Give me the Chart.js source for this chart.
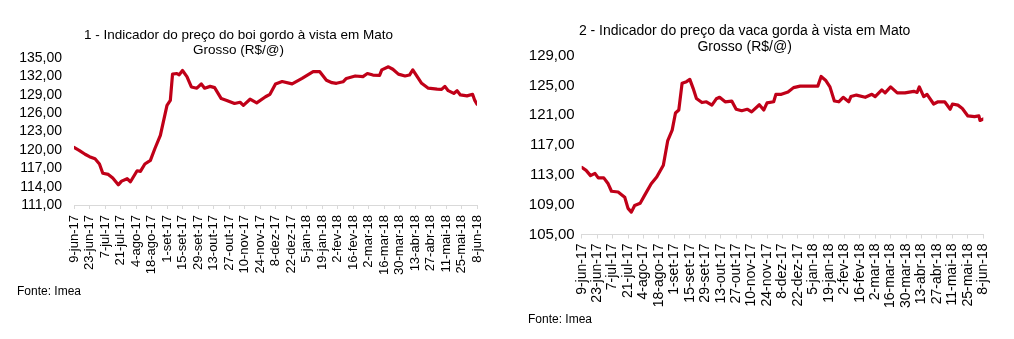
<!DOCTYPE html>
<html lang="pt-BR">
<head>
<meta charset="utf-8">
<title>Indicadores boi e vaca gorda - MT</title>
<script src="https://cdn.jsdelivr.net/npm/chart.js@4/dist/chart.umd.min.js"></script>
<style>
    body { margin: 0; background: #fff; width: 1014px; height: 339px; position: relative; overflow: hidden; }
    .grafico { position: absolute; top: 0; }
    .fonte { position: absolute; font: 12px "Liberation Sans", Arial, sans-serif; color: #000; }
</style>
</head>
<body>
<div class="grafico" style="left:0"><canvas id="boiChart" width="506" height="339"></canvas></div>
<div class="grafico" style="left:506px"><canvas id="vacaChart" width="508" height="339"></canvas></div>
<div class="fonte" style="left:17px; top:284px">Fonte: Imea</div>
<div class="fonte" style="left:528px; top:312px">Fonte: Imea</div>

<script>
// rotulos do eixo x (a cada 14 dias)
const rotulos = ['9-jun-17', '23-jun-17', '7-jul-17', '21-jul-17', '4-ago-17', '18-ago-17', '1-set-17',
    '15-set-17', '29-set-17', '13-out-17', '27-out-17', '10-nov-17', '24-nov-17', '8-dez-17', '22-dez-17',
    '5-jan-18', '19-jan-18', '2-fev-18', '16-fev-18', '2-mar-18', '16-mar-18', '30-mar-18', '13-abr-18',
    '27-abr-18', '11-mai-18', '25-mai-18', '8-jun-18'];

// boi gordo: dias desde 9-jun-17 e preco (R$/@)
const diasBoi = [0, 5, 10, 14, 19, 23, 26, 31, 35, 40, 43, 48, 51, 57, 60, 64, 69, 73, 78, 84, 87, 89, 93, 95,
    98, 102, 106, 111, 115, 118, 123, 127, 133, 138, 145, 150, 153, 159, 165, 173, 177, 182, 188, 197, 206,
    216, 222, 228, 233, 237, 243, 246, 254, 261, 265, 270, 276, 278, 284, 288, 293, 299, 303, 306, 310, 314,
    320, 328, 332, 335, 338, 343, 346, 349, 355, 360, 362, 364];
const boi = [120.4, 119.9, 119.3, 118.9, 118.55, 117.7, 116.2, 116.0, 115.4, 114.3, 114.9, 115.3, 114.8, 116.6,
    116.5, 117.7, 118.3, 120.2, 122.4, 127.3, 128.1, 132.4, 132.5, 132.3, 133.0, 132.0, 130.3, 130.1, 130.8,
    130.1, 130.4, 130.2, 128.4, 128.1, 127.6, 127.8, 127.3, 128.3, 127.7, 128.7, 129.1, 130.8, 131.2, 130.8,
    131.7, 132.8, 132.8, 131.4, 131.0, 130.9, 131.15, 131.7, 132.1, 132.0, 132.5, 132.25, 132.2, 133.1, 133.6,
    133.2, 132.4, 132.1, 132.25, 133.1, 132.0, 130.9, 130.1, 129.95, 129.9, 130.4, 129.7, 129.25, 129.7, 129.0,
    128.85, 129.1, 128.1, 127.5];

// vaca gorda
const diasVaca = [0, 4, 8, 12, 15, 20, 24, 27, 33, 39, 42, 45, 48, 53, 57, 63, 68, 74, 78, 82, 85, 88, 91, 95,
    98, 101, 104, 109, 113, 118, 122, 125, 130, 136, 140, 145, 150, 154, 161, 165, 168, 174, 176, 181, 187,
    192, 198, 214, 217, 221, 225, 229, 233, 237, 242, 244, 249, 257, 263, 266, 272, 275, 280, 286, 293, 301,
    304, 306, 310, 313, 319, 323, 329, 334, 336, 341, 345, 350, 356, 360, 361, 364];
const vaca = [114.0, 113.6, 112.9, 113.2, 112.6, 112.6, 111.8, 110.8, 110.7, 110.0, 108.5, 108.0, 108.9, 109.2,
    110.25, 111.8, 112.7, 114.3, 117.6, 119.0, 121.3, 121.7, 125.3, 125.5, 125.8, 124.6, 123.25, 122.7, 122.8,
    122.35, 123.2, 123.4, 122.8, 122.9, 121.8, 121.6, 121.8, 121.45, 122.4, 121.7, 122.65, 122.8, 123.8, 123.8,
    124.1, 124.7, 124.9, 124.9, 126.2, 125.7, 124.8, 122.9, 122.8, 123.4, 122.8, 123.5, 123.7, 123.4, 123.8,
    123.5, 124.4, 124.0, 124.8, 124.0, 124.0, 124.2, 124.05, 124.8, 123.5, 123.8, 122.5, 122.8, 122.8, 121.8,
    122.5, 122.35, 121.9, 120.9, 120.8, 120.9, 120.3, 120.5];

const fonte = '"Liberation Sans", Arial, sans-serif';
const corLinha = '#c00018';

function criaGrafico(id, titulo, dias, valores, cfg) {
    const ctx = document.getElementById(id).getContext('2d');
    return new Chart(ctx, {
        type: 'line',
        data: {
            datasets: [{
                data: dias.map((d, i) => ({ x: d, y: valores[i] })),
                borderColor: corLinha,
                borderWidth: 3.2,
                borderJoinStyle: 'round',
                borderCapStyle: 'round',
                pointRadius: 0,
                tension: 0
            }]
        },
        options: {
            responsive: false,
            animation: false,
            layout: { padding: { left: 0, right: cfg.padRight, top: 0, bottom: cfg.padBottom } },
            plugins: {
                legend: { display: false },
                tooltip: { enabled: false },
                title: {
                    display: true,
                    text: titulo,
                    color: '#000',
                    font: { family: fonte, size: cfg.titleFont, weight: 'normal', lineHeight: 1.12 },
                    padding: { top: cfg.titleTop, bottom: cfg.titleBottom }
                }
            },
            scales: {
                x: {
                    type: 'linear',
                    min: 0,
                    max: 364,
                    afterFit: (s) => { s.height = 80; },
                    border: { display: true, color: '#d9d9d9', width: 1 },
                    grid: { drawOnChartArea: false, drawTicks: true, tickLength: 4, color: '#d9d9d9' },
                    ticks: {
                        stepSize: 14,
                        autoSkip: false,
                        maxRotation: 90,
                        minRotation: 90,
                        padding: cfg.xPad,
                        color: '#000',
                        font: { family: fonte, size: cfg.xFont },
                        callback: (v) => rotulos[Math.round(v / 14)]
                    }
                },
                y: {
                    min: cfg.yMin,
                    max: cfg.yMax,
                    afterFit: (s) => { s.width = cfg.yWidth; },
                    border: { display: false },
                    grid: { display: false, drawTicks: false },
                    ticks: {
                        stepSize: cfg.yStep,
                        autoSkip: false,
                        padding: cfg.yPad,
                        color: '#000',
                        font: { family: fonte, size: cfg.yFont },
                        callback: (v) => v.toFixed(2).replace('.', ',')
                    }
                }
            }
        }
    });
}

criaGrafico('boiChart',
    ['1 - Indicador do preço do boi gordo à vista em Mato', 'Grosso (R$/@)'],
    diasBoi, boi,
    { yMin: 111, yMax: 135, yStep: 3, yWidth: 74, yPad: 12, yFont: 14, xFont: 13, xPad: 6,
      padRight: 29, padBottom: 54, titleFont: 13.5, titleTop: 27.5, titleBottom: 0.5 });

criaGrafico('vacaChart',
    ['2 - Indicador do preço da vaca gorda à vista em Mato', 'Grosso (R$/@)'],
    diasVaca, vaca,
    { yMin: 105, yMax: 129, yStep: 4, yWidth: 75.7, yPad: 7, yFont: 15, xFont: 14, xPad: 5,
      padRight: 30.7, padBottom: 24.5, titleFont: 14, titleTop: 23.8, titleBottom: 0.4 });
</script>
</body>
</html>
